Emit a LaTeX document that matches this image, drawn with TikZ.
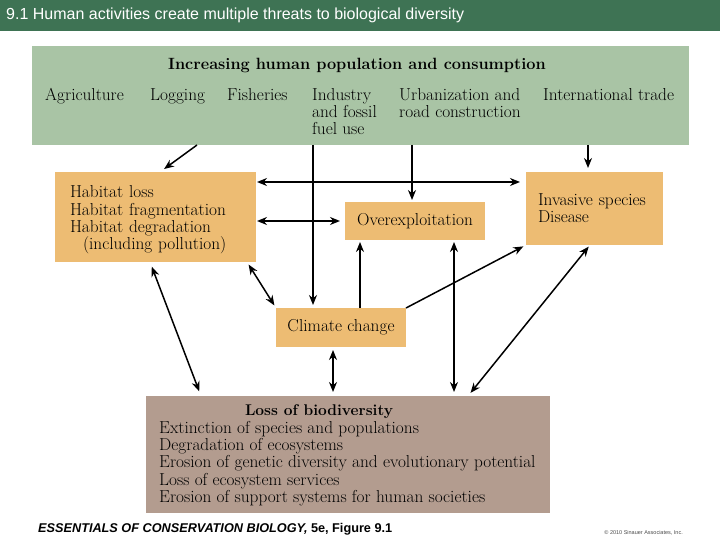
\documentclass[tikz,border=0pt]{standalone}
\usepackage{fontspec}
\newfontfamily\arialfont{Liberation Sans}
\usetikzlibrary{arrows.meta, positioning, calc}
\definecolor{barGreen}{RGB}{62,115,84}
\definecolor{driverGreen}{RGB}{169,196,165}
\definecolor{threatOrange}{RGB}{237,188,115}
\definecolor{lossBrown}{RGB}{179,156,143}

\begin{document}
\begin{tikzpicture}[x=1pt, y=-1pt,
                    panel/.style={inner sep=0pt, outer sep=0pt},
                    threat/.style={fill=threatOrange, inner sep=0pt, outer sep=0pt, align=left, font=\fontsize{17.3}{17.3}\selectfont},
                    lbl/.style={inner sep=0pt, anchor=north west, align=left, font=\fontsize{17.3}{17.3}\selectfont},
                    arr/.style={-{Stealth[length=10pt, width=8pt]}, line width=1.5pt},
                    darr/.style={{Stealth[length=10pt, width=8pt]}-{Stealth[length=10pt, width=8pt]}, line width=1.5pt}]
        \useasboundingbox[fill=white] (0,0) rectangle (720,540);
        % title bar
        \fill[barGreen] (0,0) rectangle (720,31);
        \node[inner sep=0pt, anchor=base west, text=white, font=\arialfont\fontsize{16}{18}\selectfont] (title) at (6,20) {9.1 Human activities create multiple threats to biological diversity};
        % drivers
        \node[panel, fill=driverGreen, minimum width=657pt, minimum height=99pt] (top) at (360.5,95.5) {};
        \node[lbl, anchor=base, font=\bfseries\fontsize{16.3}{17.3}\selectfont] (drivers) at (357,70) {Increasing human population and consumption};
        \node[lbl] (agri) at (45,88) {Agriculture};
        \node[lbl] (log)  at (150,88) {Logging};
        \node[lbl] (fish) at (227,88) {Fisheries};
        \node[lbl] (ind)  at (312,88) {Industry\\and fossil\\fuel use};
        \node[lbl] (urb)  at (399,88) {Urbanization and\\road construction};
        \node[lbl] (trade) at (543,88) {International trade};
        % threats
        \node[threat, minimum width=201pt, minimum height=90pt, text width=171pt] (hab) at (155.5,217) {\rule{0pt}{18pt}Habitat loss\\Habitat fragmentation\\Habitat degradation\\\hspace*{13pt}(including pollution)};
        \node[threat, minimum width=140pt, minimum height=38pt, align=center] (over) at (415,221) {Overexploitation};
        \node[threat, minimum width=137pt, minimum height=73pt, text width=113pt] (inv) at (594.5,208.5) {Invasive species\\Disease\\[15pt]};
        \node[threat, minimum width=130pt, minimum height=39pt, align=center] (clim) at (341,327.5) {Climate change};
        % outcome
        \node[panel, fill=lossBrown, minimum width=404pt, minimum height=117pt] (loss) at (348,454.5) {};
        \node[lbl, anchor=base, font=\bfseries\fontsize{15.5}{17.3}\selectfont] (losshead) at (319,415) {Loss of biodiversity};
        \node[lbl] (losslist) at (159,421) {Extinction of species and populations\\Degradation of ecosystems\\Erosion of genetic diversity and evolutionary potential\\Loss of ecosystem services\\Erosion of support systems for human societies};
        % footer
        \node[inner sep=0pt, anchor=base west, font=\arialfont\bfseries\fontsize{12.7}{15}\selectfont] (fig) at (38,532) {\textit{ESSENTIALS OF CONSERVATION BIOLOGY,} 5e, Figure 9.1};
        \node[inner sep=0pt, anchor=base east, text=black!70, font=\arialfont\fontsize{5.5}{6}\selectfont] (copy) at (683,534) {© 2010 Sinauer Associates, Inc.};
        % connectors
        \draw[arr, shorten >=5pt] ([xshift=165pt]top.south west) -- ([xshift=105pt]hab.north west);
        \draw[arr, shorten >=3pt] ([xshift=281pt]top.south west) -- ([xshift=37pt]clim.north west);
        \draw[arr, shorten >=2pt] ([xshift=380pt]top.south west) -- ([xshift=67pt]over.north west);
        \draw[arr, shorten >=4pt] ([xshift=556pt]top.south west) -- ([xshift=62pt]inv.north west);
        \draw[darr, shorten <=1pt, shorten >=6pt] ([yshift=-10pt]hab.north east) -- ([yshift=-10pt]inv.north west);
        \draw[darr, shorten <=1pt, shorten >=5pt] (hab.east |- over.west) -- (over.west);
        \draw[darr, shorten <=3pt, shorten >=3pt] ([xshift=-9pt]hab.south east) -- (clim.north west);
        \draw[darr, shorten <=5pt, shorten >=5pt] ([xshift=95pt]hab.south west) -- ([xshift=55pt]loss.north west);
        \draw[arr, shorten >=2pt] ([xshift=84pt]clim.north west) -- ([xshift=15pt]over.south west);
        \draw[arr, shorten >=3pt] (clim.north east) -- (inv.south west);
        \draw[darr, shorten <=2pt, shorten >=4pt] ([xshift=109pt]over.south west) -- ([xshift=308pt]loss.north west);
        \draw[darr, shorten <=2pt, shorten >=4pt] ([xshift=64pt]inv.south west) -- ([xshift=322pt]loss.north west);
        \draw[darr, shorten <=3pt, shorten >=4pt] ([xshift=57pt]clim.south west) -- ([xshift=187pt]loss.north west);
    \end{tikzpicture}
\end{document}
